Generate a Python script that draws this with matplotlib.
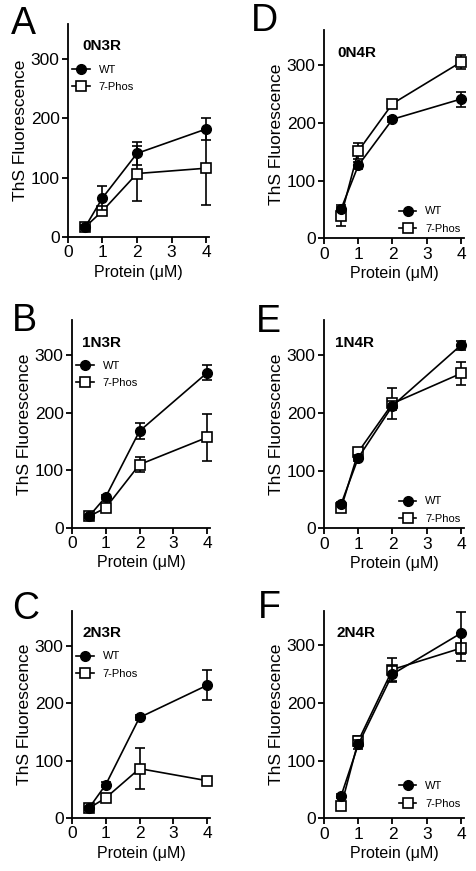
import numpy as np
import matplotlib.pyplot as plt
from matplotlib.lines import Line2D

plt.rcParams['font.family'] = ['Liberation Sans', 'DejaVu Sans']

# protein concentration (uM)
conc = [0.5, 1, 2, 4]

panel_letters = ['A', 'B', 'C', 'D', 'E', 'F']
isoforms = ['0N3R', '1N3R', '2N3R', '0N4R', '1N4R', '2N4R']

# WT means / errors
wt_0n3r = [17, 66, 141, 182]
wt_0n3r_err = [3, 20, 19, 18]
wt_1n3r = [20, 54, 168, 269]
wt_1n3r_err = [3, 4, 14, 13]
wt_2n3r = [17, 58, 175, 231]
wt_2n3r_err = [3, 4, 4, 26]
wt_0n4r = [51, 126, 206, 241]
wt_0n4r_err = [4, 6, 4, 13]
wt_1n4r = [42, 122, 212, 317]
wt_1n4r_err = [4, 5, 8, 8]
wt_2n4r = [39, 128, 250, 321]
wt_2n4r_err = [4, 8, 14, 36]

# 7-Phos means / errors
ph_0n3r = [17, 44, 107, 116]
ph_0n3r_err = [3, 6, 47, 62]
ph_1n3r = [20, 35, 110, 157]
ph_1n3r_err = [3, 4, 13, 41]
ph_2n3r = [17, 35, 86, 65]
ph_2n3r_err = [3, 4, 36, 5]
ph_0n4r = [39, 151, 233, 305]
ph_0n4r_err = [18, 14, 5, 12]
ph_1n4r = [35, 132, 216, 268]
ph_1n4r_err = [4, 5, 26, 20]
ph_2n4r = [21, 134, 258, 295]
ph_2n4r_err = [4, 8, 20, 22]

wt_all = [wt_0n3r, wt_1n3r, wt_2n3r, wt_0n4r, wt_1n4r, wt_2n4r]
wt_err_all = [wt_0n3r_err, wt_1n3r_err, wt_2n3r_err, wt_0n4r_err, wt_1n4r_err, wt_2n4r_err]
ph_all = [ph_0n3r, ph_1n3r, ph_2n3r, ph_0n4r, ph_1n4r, ph_2n4r]
ph_err_all = [ph_0n3r_err, ph_1n3r_err, ph_2n3r_err, ph_0n4r_err, ph_1n4r_err, ph_2n4r_err]

W, H = 477, 871
fig = plt.figure(figsize=(W / 100, H / 100), dpi=100)

# axes boxes in pixels: left, y of 0, px per x unit, px per y unit
boxes = [
    (68, 237, 34.5, 0.593),
    (72, 528, 33.75, 0.5767),
    (72, 818, 33.75, 0.5743),
    (324, 238.3, 34.25, 0.5778),
    (324, 528.3, 34.25, 0.5778),
    (324, 818.3, 34.25, 0.5767),
]
# panel letter centres in pixels
letter_pos = [(11, 24), (12, 321), (12, 609), (251, 21), (256, 322), (258, 608)]
title_x = [0.1, 0.075, 0.075, 0.093, 0.08, 0.086]
legend_anchor = [(-0.02, 0.838), (-0.02, 0.838), (-0.02, 0.838),
                 (1.02, -0.01), (1.02, -0.01), (1.02, 0.015)]
xmax, ymax = 4.1, 360

for i in range(6):
    left, base, sx, sy = boxes[i]
    w = sx * xmax
    h = sy * ymax
    ax = fig.add_axes([left / W, (H - base) / H, w / W, h / H])

    ax.errorbar(conc, ph_all[i], yerr=ph_err_all[i], color='black', marker='s',
                markersize=7.5, markerfacecolor='white', markeredgecolor='black',
                markeredgewidth=1.2, linewidth=1.2, capsize=3.5, elinewidth=1.2,
                capthick=1.2, zorder=2, clip_on=False)
    ax.errorbar(conc, wt_all[i], yerr=wt_err_all[i], color='black', marker='o',
                markersize=7, markerfacecolor='black', markeredgecolor='black',
                linewidth=1.2, capsize=3.5, elinewidth=1.2, capthick=1.2,
                zorder=3, clip_on=False)

    ax.set_xlim(0, xmax)
    ax.set_ylim(0, ymax)
    ax.set_xticks([0, 1, 2, 3, 4])
    ax.set_yticks([0, 100, 200, 300])
    for s in ['top', 'right']:
        ax.spines[s].set_visible(False)
    for s in ['left', 'bottom']:
        ax.spines[s].set_linewidth(1.3)
    ax.tick_params(direction='out', length=4, width=1.3, labelsize=12.5, pad=2)
    ax.set_xlabel('Protein (\u03bcM)', fontsize=11.5, labelpad=3)
    ax.set_ylabel('ThS Fluorescence', fontsize=12.5, labelpad=2)

    ax.text(title_x[i], 0.893, isoforms[i], transform=ax.transAxes, fontsize=11,
            fontweight='bold', ha='left', va='center')

    h_wt = Line2D([], [], color='black', marker='o', markersize=7, linewidth=1.2)
    h_ph = Line2D([], [], color='black', marker='s', markersize=7.5,
                  markerfacecolor='white', markeredgewidth=1.2, linewidth=1.2)
    loc = 'upper left' if i < 3 else 'lower right'
    ax.legend([h_wt, h_ph], ['WT', '7-Phos'], loc=loc,
              bbox_to_anchor=legend_anchor[i], frameon=False, fontsize=8,
              handlelength=1.6, handletextpad=0.8, labelspacing=0.65,
              borderaxespad=0.2)

    lx, ly = letter_pos[i]
    fig.text(lx / W, 1 - ly / H, panel_letters[i], fontsize=27,
             ha='left', va='center')

fig.savefig('out.png', dpi=100)
